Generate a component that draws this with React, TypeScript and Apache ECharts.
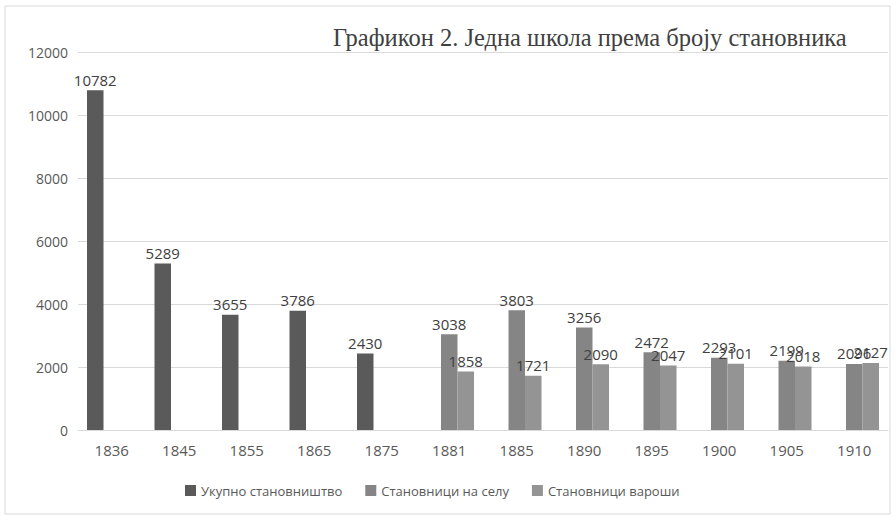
import React, { useEffect, useRef } from "react";
import * as echarts from "echarts";

const years = ["1836", "1845", "1855", "1865", "1875", "1881", "1885", "1890", "1895", "1900", "1905", "1910"];
const ukupno = [10782, 5289, 3655, 3786, 2430, null, null, null, null, null, null, null];
const selo = [null, null, null, null, null, 3038, 3803, 3256, 2472, 2293, 2199, 2096];
const varos = [null, null, null, null, null, 1858, 1721, 2090, 2047, 2101, 2018, 2127];
const seriesNames = ["Укупно становништво", "Становници на селу", "Становници вароши"];
const colors = ["#5a5a5a", "#858585", "#949494"];

export default function App() {
  const ref = useRef<HTMLDivElement>(null);
  useEffect(() => {
    const chart = echarts.init(ref.current!, null, { renderer: "svg" });
    const label = {
      show: true,
      position: "top" as const,
      distance: 3,
      color: "#404040",
      fontSize: 15,
      fontFamily: "Open Sans",
    };
    const datas = [ukupno, selo, varos];
    chart.setOption({
      animation: false,
      backgroundColor: "#ffffff",
      color: colors,
      title: {
        text: "Графикон 2. Једна школа према броју становника",
        left: 328,
        top: 20,
        textStyle: {
          fontFamily: "Liberation Serif",
          fontWeight: "normal",
          fontSize: 24.5,
          color: "#404040",
        },
      },
      graphic: [
        {
          type: "rect",
          shape: { x: 5, y: 6, width: 885, height: 508 },
          style: { fill: "none", stroke: "#d9d9d9", lineWidth: 1 },
          silent: true,
        },
      ],
      legend: {
        bottom: 15,
        left: 180,
        itemWidth: 11,
        itemHeight: 11,
        itemGap: 23,
        icon: "rect",
        textStyle: { fontFamily: "Open Sans", fontSize: 13, color: "#595959" },
        data: seriesNames,
      },
      grid: { left: 78, right: 8, top: 52, bottom: 87, containLabel: false },
      xAxis: {
        type: "category",
        data: years,
        axisLine: { lineStyle: { color: "#d9d9d9" } },
        axisTick: { show: false },
        axisLabel: { color: "#595959", fontSize: 15, fontFamily: "Open Sans", margin: 12 },
      },
      yAxis: {
        type: "value",
        min: 0,
        max: 12000,
        interval: 2000,
        axisLine: { show: false },
        axisTick: { show: false },
        splitLine: { lineStyle: { color: "#d9d9d9" } },
        axisLabel: {
          color: "#595959",
          fontSize: 14,
          fontFamily: "Open Sans",
          margin: 10,
          formatter: (v: number) => String(v),
        },
      },
      series: seriesNames.map((name, i) => ({
        name,
        type: "bar",
        data: datas[i],
        barWidth: 16.5,
        barGap: "0%",
        itemStyle: { color: colors[i] },
        label,
      })),
    });
    return () => chart.dispose();
  }, []);
  return (
    <div
      ref={ref}
      style={{ position: "fixed", left: 0, top: 0, width: 896, height: 517 }}
    />
  );
}
